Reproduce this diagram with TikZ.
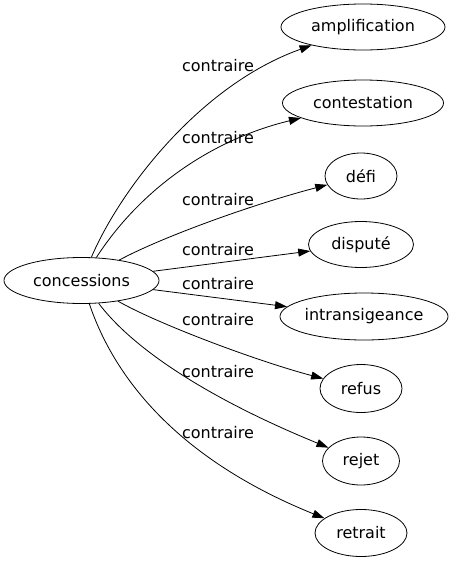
\documentclass[tikz,border=0pt]{standalone}
\usepackage{fontspec}
\setmainfont{DejaVu Sans}
\usetikzlibrary{shapes.geometric,arrows.meta}
\begin{document}
\begin{tikzpicture}[x=1pt,y=-1pt,
  word/.style={draw,ellipse,inner sep=0pt,line width=0.8pt,font=\fontsize{16}{19}\selectfont},
  rel/.style={draw,line width=0.8pt,-{Triangle[length=12pt,width=8pt]}},
  lab/.style={font=\fontsize{16}{19}\selectfont,inner sep=0pt}]
\useasboundingbox (0,0) rectangle (456,563);
\node[word,minimum width=155pt,minimum height=46pt] (con) at (81.5,280.5) {concessions};
\node[word,minimum width=164pt,minimum height=46pt] (amp) at (363,27) {amplification};
\node[word,minimum width=161pt,minimum height=46pt] (cst) at (363,103) {contestation};
\node[word,minimum width=72pt,minimum height=46pt] (def) at (361,176) {défi};
\node[word,minimum width=105pt,minimum height=46pt] (dis) at (361,244.5) {disputé};
\node[word,minimum width=168pt,minimum height=47pt] (int) at (364,316.5) {intransigeance};
\node[word,minimum width=82pt,minimum height=48pt] (ref) at (361,388.5) {refus};
\node[word,minimum width=77pt,minimum height=48pt] (rej) at (361,461) {rejet};
\node[word,minimum width=92pt,minimum height=47pt] (ret) at (361,533) {retrait};
\draw[rel] (con) .. controls (120,190) and (200,85) .. (amp);
\draw[rel] (con) .. controls (140,190) and (210,140) .. (cst);
\draw[rel] (con) .. controls (160,238) and (250,205) .. (def);
\draw[rel] (con) -- (dis);
\draw[rel] (con) -- (int);
\draw[rel] (con) .. controls (160,325) and (260,362) .. (ref);
\draw[rel] (con) .. controls (130,345) and (200,395) .. (rej);
\draw[rel] (con) .. controls (115,380) and (180,460) .. (ret);
\node[lab] (l1) at (218,66) {contraire};
\node[lab] (l2) at (218,138) {contraire};
\node[lab] (l3) at (218,200) {contraire};
\node[lab] (l4) at (218,250) {contraire};
\node[lab] (l5) at (218,284) {contraire};
\node[lab] (l6) at (218,320) {contraire};
\node[lab] (l7) at (218,372) {contraire};
\node[lab] (l8) at (218,433) {contraire};
\end{tikzpicture}
\end{document}
